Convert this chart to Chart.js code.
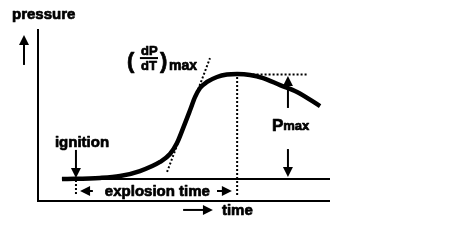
<!DOCTYPE html>
<html>
<head>
<meta charset="utf-8">
<script src="https://cdn.jsdelivr.net/npm/chart.js@4.4.0/dist/chart.umd.min.js"></script>
<style>
  html, body { margin: 0; padding: 0; background: #fff; }
  canvas { display: block; }
</style>
</head>
<body>
<canvas id="myChart" width="474" height="249"></canvas>
<script>
// time and pressure in arbitrary units (0-100 on both axes)
const curveTime = [8.2, 21.2, 28.1, 34.9, 41.8, 45.2, 47.6, 49.7, 52.1, 53.8, 55.5, 57.9, 61.3, 64.7, 68.2, 72.6, 77.1, 82.9, 88.7, 96.6];
const curvePressure = [12.8, 13.4, 14.5, 17.4, 22.7, 27.3, 33.7, 42.4, 52.9, 60.5, 65.7, 69.2, 72.1, 73.5, 73.8, 73.3, 71.5, 67.4, 63.4, 55.2];

const baseTime = [8.2, 100];
const basePressure = [12.8, 12.8];

const axisTime = [0, 0, 100];
const axisPressure = [100, 0, 0];

const tangentTime = [44.2, 58.9];
const tangentPressure = [16.9, 83.1];

// dotted guides at the peak
const peakTime = [68.2, 68.2, 92.5];
const peakPressure = [3.5, 73.6, 73.6];

const ignitionTime = [13, 13];
const ignitionPressure = [12.2, 2.9];

const fracTime = [34.9, 41.1];
const fracPressure = [83.1, 83.1];

// arrows: [fromTime, fromPressure, toTime, toPressure]
const arrows = [
  [-4.8, 79.1, -4.8, 96.5],   // pressure
  [13, 29.7, 13, 13.4],       // ignition
  [85.6, 54.1, 85.6, 72.7],   // Pmax up
  [85.6, 30.2, 85.6, 14.0],   // Pmax down
  [18.8, 5.8, 14.4, 5.8],     // explosion time left
  [61.3, 5.8, 66.4, 5.8],     // explosion time right
  [49.7, -5.2, 59.9, -5.2]    // time
];

// labels: [text, time, pressure, font size]
const labels = [
  ['pressure', -8.9, 105.8, 15],
  ['ignition', 5.8, 31.4, 15],
  ['explosion time', 22.9, 2.9, 15],
  ['time', 63.0, -8.1, 15],
  ['P', 80.1, 40.7, 17],
  ['max', 84.0, 41.3, 13],
  ['(', 30.5, 77.3, 22],
  ['dP', 35.3, 84.9, 13],
  ['dT', 35.3, 76.2, 13],
  [')', 41.8, 77.3, 22],
  ['max', 44.9, 76.2, 14]
];

function pts(xs, ys) {
  return xs.map((v, i) => ({x: v, y: ys[i]}));
}

const annotate = {
  id: 'annotate',
  afterDatasetsDraw(chart) {
    const ctx = chart.ctx;
    const sx = chart.scales.x, sy = chart.scales.y;
    ctx.save();
    ctx.fillStyle = '#000';
    ctx.strokeStyle = '#000';
    arrows.forEach(a => {
      const x1 = sx.getPixelForValue(a[0]), y1 = sy.getPixelForValue(a[1]);
      const x2 = sx.getPixelForValue(a[2]), y2 = sy.getPixelForValue(a[3]);
      const ang = Math.atan2(y2 - y1, x2 - x1);
      const c = Math.cos(ang), s = Math.sin(ang);
      const head = 10, half = 5;
      ctx.lineWidth = 2;
      ctx.beginPath();
      ctx.moveTo(x1, y1);
      ctx.lineTo(x2 - c * head * 0.8, y2 - s * head * 0.8);
      ctx.stroke();
      ctx.beginPath();
      ctx.moveTo(x2, y2);
      ctx.lineTo(x2 - head * c + half * s, y2 - head * s - half * c);
      ctx.lineTo(x2 - head * c - half * s, y2 - head * s + half * c);
      ctx.closePath();
      ctx.fill();
    });
    // heavier lettering, like the scanned original
    ctx.textAlign = 'left';
    ctx.textBaseline = 'alphabetic';
    ctx.lineWidth = 0.7;
    ctx.lineJoin = 'round';
    labels.forEach(l => {
      ctx.font = 'bold ' + l[3] + 'px "Liberation Sans", Arial, sans-serif';
      const px = sx.getPixelForValue(l[1]), py = sy.getPixelForValue(l[2]);
      ctx.fillText(l[0], px, py);
      ctx.strokeText(l[0], px, py);
    });
    ctx.restore();
  }
};

const line = (data, width, dash) => ({
  data: data,
  showLine: true,
  borderColor: '#000',
  borderWidth: width,
  borderDash: dash || [],
  pointRadius: 0,
  fill: false,
  clip: false
});

const curve = line(pts(curveTime, curvePressure), 4.5);
curve.cubicInterpolationMode = 'monotone';

new Chart(document.getElementById('myChart').getContext('2d'), {
  type: 'scatter',
  data: {
    datasets: [
      curve,
      line(pts(baseTime, basePressure), 2),
      line(pts(axisTime, axisPressure), 2),
      line(pts(tangentTime, tangentPressure), 2, [2, 2]),
      line(pts(peakTime, peakPressure), 2, [2, 2]),
      line(pts(ignitionTime, ignitionPressure), 2, [2, 2]),
      line(pts(fracTime, fracPressure), 2)
    ]
  },
  options: {
    responsive: false,
    animation: false,
    events: [],
    layout: {padding: {left: 38, right: 144, top: 29, bottom: 48}},
    scales: {
      x: {type: 'linear', display: false, min: 0, max: 100},
      y: {type: 'linear', display: false, min: 0, max: 100}
    },
    plugins: {legend: {display: false}, tooltip: {enabled: false}}
  },
  plugins: [annotate]
});
</script>
</body>
</html>
